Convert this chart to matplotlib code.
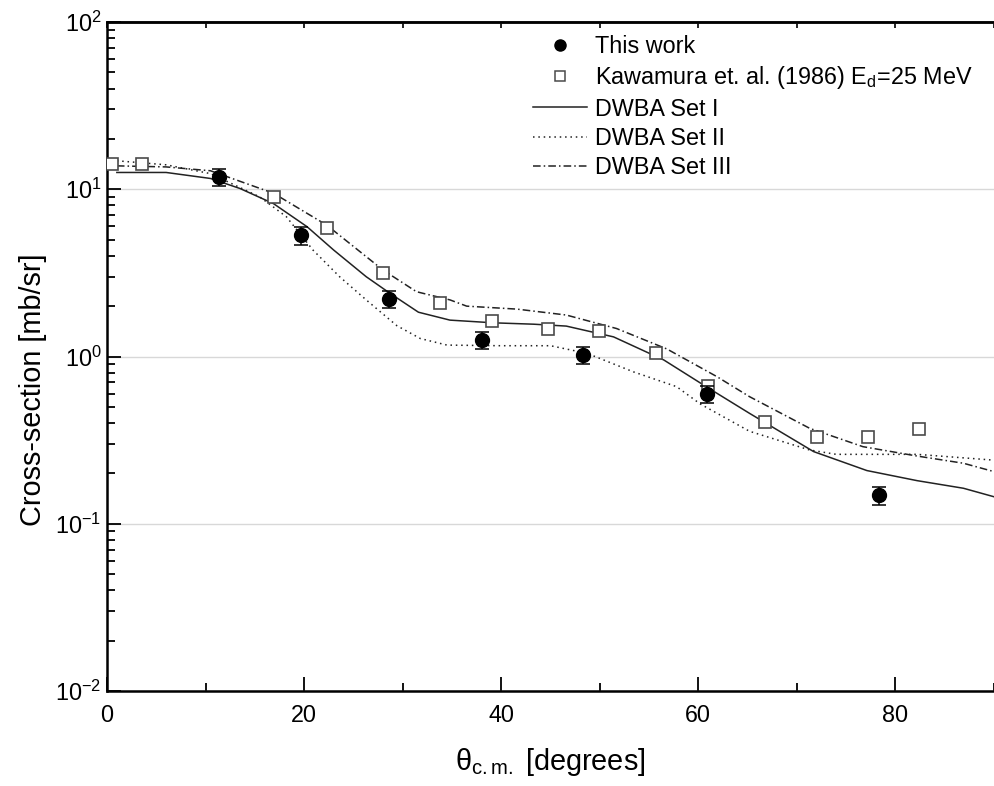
import numpy as np
import matplotlib
matplotlib.use("Agg")
import matplotlib.pyplot as plt
from matplotlib.lines import Line2D
from matplotlib.ticker import LogLocator, NullFormatter

# --- data ---
this_theta = [11.4, 19.7, 28.6, 38.0, 48.3, 60.9, 78.3]
this_xs = [11.9, 5.3, 2.21, 1.26, 1.02, 0.60, 0.148]
this_err = [1.4, 0.65, 0.27, 0.15, 0.12, 0.07, 0.018]

kaw_theta = [0.5, 3.6, 16.9, 22.3, 28.0, 33.8, 39.1, 44.7, 49.95, 55.7, 61.0, 66.8, 72.0, 77.2, 82.4]
kaw_xs = [14.2, 14.2, 9.0, 5.9, 3.17, 2.08, 1.64, 1.47, 1.43, 1.05, 0.667, 0.407, 0.332, 0.332, 0.37]

set1_theta = [1, 6, 10.5, 13.5, 16.9, 20.3, 23.0, 26.3, 28.7, 31.6, 34.8, 39.2, 43.3, 46.6,
              51.4, 56.5, 60.8, 65.2, 71.7, 77.1, 82.2, 86.9, 90]
set1 = [12.6, 12.6, 11.6, 10.1, 8.2, 5.97, 4.33, 3.0, 2.39, 1.84, 1.65, 1.59, 1.56, 1.52,
        1.31, 0.953, 0.66, 0.457, 0.27, 0.208, 0.181, 0.163, 0.145]

set2_theta = [1, 6, 10.5, 15.5, 18.2, 20.9, 23.6, 26.3, 29.4, 31.8, 34.5, 39.9, 45.0, 48.7,
              53.4, 57.8, 60.2, 65.2, 71.3, 74.0, 82.2, 90]
set2 = [14.8, 14.0, 12.4, 9.0, 6.85, 4.33, 3.0, 2.18, 1.53, 1.28, 1.17, 1.16, 1.16, 1.045,
        0.81, 0.66, 0.52, 0.357, 0.276, 0.26, 0.26, 0.24]

set3_theta = [1, 6, 10.5, 16.9, 22.3, 28.0, 31.4, 34.8, 36.5, 41.6, 46.6, 51.7, 56.8, 61.9,
              65.2, 71.3, 76.7, 82.2, 86.9, 90]
set3 = [13.8, 13.6, 12.9, 9.46, 6.1, 3.29, 2.44, 2.18, 2.0, 1.92, 1.77, 1.47, 1.11, 0.757,
        0.575, 0.372, 0.289, 0.254, 0.23, 0.205]

# --- style ---
plt.rcParams['font.family'] = ['Liberation Sans', 'DejaVu Sans']
plt.rcParams['mathtext.fontset'] = 'custom'
plt.rcParams['mathtext.rm'] = 'Liberation Sans'
plt.rcParams['mathtext.it'] = 'Liberation Sans:italic'

fig = plt.figure(figsize=(9.94, 7.86), dpi=100)
ax = fig.add_axes([107 / 994, 1 - 691 / 786, 1 - 107 / 994, (691 - 22) / 786])

line_col = '#222222'
ls_dot = (0, (1, 2.5))
ls_dashdot = (0, (5, 2, 1, 2))

# model curves
ax.plot(set1_theta, set1, color=line_col, lw=1.1, ls='-')
ax.plot(set2_theta, set2, color=line_col, lw=1.1, ls=ls_dot)
ax.plot(set3_theta, set3, color=line_col, lw=1.1, ls=ls_dashdot)

# data
ax.plot(kaw_theta, kaw_xs, ls='none', marker='s', ms=8.5, mfc='white', mec='#4a4a4a',
        mew=1.2, zorder=4)
ax.errorbar(this_theta, this_xs, yerr=this_err, fmt='o', ms=10, color='black',
            ecolor='black', elinewidth=1.1, capsize=4.7, capthick=1.1, zorder=5)

ax.set_yscale('log')
ax.set_xlim(0, 90)
ax.set_ylim(1e-2, 1e2)

ax.yaxis.set_major_locator(LogLocator(base=10, numticks=10))
ax.yaxis.set_minor_locator(LogLocator(base=10, subs=np.arange(2, 10), numticks=50))
ax.yaxis.set_minor_formatter(NullFormatter())
ax.set_xticks([0, 20, 40, 60, 80])
ax.set_xticks([10, 30, 50, 70, 90], minor=True)

ax.tick_params(which='both', direction='in', top=False, right=False, labelsize=16.8, width=1.3)
ax.tick_params(which='major', length=10)
ax.tick_params(which='minor', length=6)
ax.tick_params(axis='x', which='major', pad=9)
ax.tick_params(axis='y', which='major', pad=4)

ax.yaxis.grid(True, which='major', color='#d8d8d8', lw=1)
ax.set_axisbelow(True)

for side in ['left', 'bottom', 'top']:
    ax.spines[side].set_linewidth(1.8)
ax.spines['right'].set_visible(False)

top = ax.secondary_xaxis('top')
top.set_ticks(np.arange(0, 91, 10))
top.tick_params(direction='in', length=4, width=1.2, labeltop=False)
top.spines['top'].set_linewidth(1.8)

ax.set_xlabel('θ$_{\\rm c.m.}$ [degrees]', fontsize=20.8, labelpad=14)
ax.set_ylabel('Cross-section [mb/sr]', fontsize=20.8)
ax.yaxis.set_label_coords(-0.068, 0.45)

# legend (markers without error bars, as in the original)
handles = [
    Line2D([], [], ls='none', marker='o', ms=8, color='black'),
    Line2D([], [], ls='none', marker='s', ms=7, mfc='white', mec='#4a4a4a', mew=1.1),
    Line2D([], [], color=line_col, lw=1.1, ls='-'),
    Line2D([], [], color=line_col, lw=1.1, ls=ls_dot),
    Line2D([], [], color=line_col, lw=1.1, ls=ls_dashdot),
]
labels = ['This work', 'Kawamura et. al. (1986) E$_{\\rm d}$=25 MeV',
          'DWBA Set I', 'DWBA Set II', 'DWBA Set III']
ax.legend(handles, labels, loc='upper left', bbox_to_anchor=(533 / 994, 1 - 35 / 786),
          bbox_transform=fig.transFigure, frameon=False, fontsize=16.8,
          handlelength=2.3, handletextpad=0.35, labelspacing=0.27,
          borderpad=0, borderaxespad=0)

fig.savefig('out.png', dpi=100)
